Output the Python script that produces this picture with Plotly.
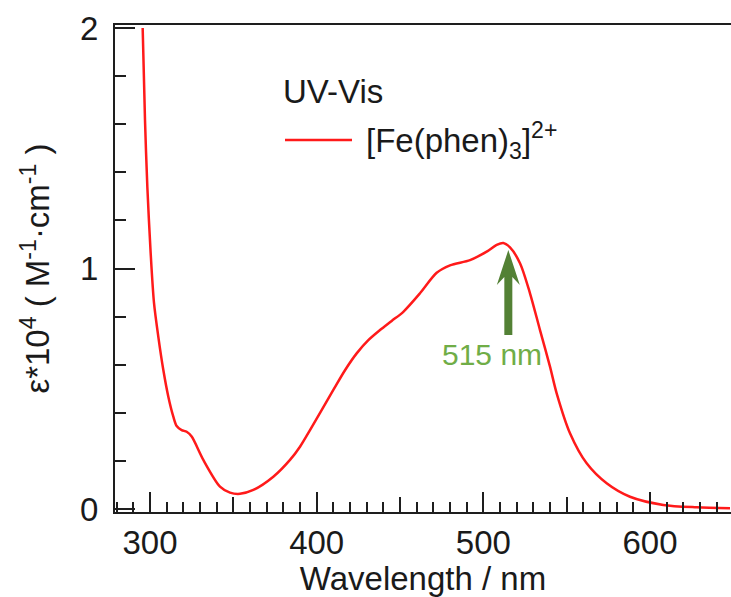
import plotly.graph_objects as go

# Absorption spectrum of [Fe(phen)3]2+ : wavelength (nm) vs epsilon / 1e4 (M^-1 cm^-1)
wavelength_nm = [295.6, 297.0, 298.4, 300.4, 302.4, 305.0, 308.0, 311.0, 314.0, 316.0,
                 319.0, 322.0, 325.0, 332.0, 342.0, 348.0, 354.0, 362.0, 374.0, 384.0,
                 390.0, 396.0, 410.0, 417.0, 424.0, 431.0, 438.0, 445.0, 452.0, 462.0,
                 472.0, 480.0, 492.0, 502.0, 508.0, 512.0, 516.0, 522.0, 528.0, 534.0,
                 540.0, 544.0, 552.0, 562.0, 574.0, 588.0, 608.0, 628.0, 648.0]
epsilon_1e4 = [2.00, 1.617, 1.340, 1.064, 0.857, 0.716, 0.578, 0.467, 0.384, 0.345,
               0.328, 0.321, 0.301, 0.204, 0.093, 0.068, 0.063, 0.079, 0.134, 0.204,
               0.259, 0.328, 0.495, 0.577, 0.647, 0.702, 0.744, 0.782, 0.820, 0.897,
               0.982, 1.013, 1.035, 1.070, 1.098, 1.106, 1.088, 1.022, 0.897, 0.744,
               0.592, 0.481, 0.315, 0.190, 0.107, 0.051, 0.017, 0.007, 0.003]

series_name = "[Fe(phen)<sub>3</sub>]<sup>2+</sup>"
legend_title = "UV-Vis"

# Absorption maximum marker
peak_nm = 515
peak_label = "515 nm"
arrow_tip = 1.077
arrow_tail = 0.723

x_major = [300, 400, 500, 600]
x_mid = [350, 450, 550, 650]
y_major = [0, 1, 2]

FONT = "Liberation Sans, Arial, sans-serif"
FS = 33
TXT = "#1a1a1a"
W, H = 731, 597
M_L, M_R, M_T, M_B = 115, 0, 25, 85
x_range = [279.0, 648.6]
y_range = [-0.0125, 2.0125]
AXIS_COL = "#1e1e1e"

plot_w = W - M_L - M_R
plot_h = H - M_T - M_B
px_per_nm = plot_w / (x_range[1] - x_range[0])
px_per_unit = plot_h / (y_range[1] - y_range[0])


def dx(p):
    return p / px_per_nm


def dy(p):
    return p / px_per_unit


def paper_x(px):
    return (px - M_L) / plot_w


def paper_y(py):
    return (H - M_B - py) / plot_h


fig = go.Figure()
fig.add_trace(go.Scatter(
    x=wavelength_nm, y=epsilon_1e4, mode="lines", name=series_name,
    line=dict(color="#ff1a1a", width=2.5, shape="spline", smoothing=0.8),
    showlegend=False, hoverinfo="skip"))
# empty trace so the secondary tick axis is laid out
fig.add_trace(go.Scatter(x=[], y=[], xaxis="x2", showlegend=False))

# Arrow pointing at the absorption maximum
tx, ty = peak_nm, arrow_tip
arrow_path = (
    f"M {tx},{ty} "
    f"L {tx + dx(11.5)},{ty - dy(35)} "
    f"L {tx + dx(4)},{ty - dy(27)} "
    f"L {tx + dx(4)},{arrow_tail} "
    f"L {tx - dx(4)},{arrow_tail} "
    f"L {tx - dx(4)},{ty - dy(27)} "
    f"L {tx - dx(11.5)},{ty - dy(35)} Z"
)
fig.add_shape(type="path", xref="x", yref="y", path=arrow_path,
              fillcolor="#538135", line=dict(width=0))
fig.add_annotation(x=peak_nm - 10, y=arrow_tail - dy(19), xref="x", yref="y",
                   text=peak_label, showarrow=False,
                   font=dict(family=FONT, size=30, color="#70ad47"),
                   xanchor="center", yanchor="middle")

# Legend drawn in the upper part of the plot
fig.add_annotation(x=paper_x(281), y=paper_y(91), xref="paper", yref="paper",
                   text=legend_title, showarrow=False, xanchor="left", yanchor="middle",
                   font=dict(family=FONT, size=FS, color=TXT))
fig.add_shape(type="line", xref="paper", yref="paper",
              x0=paper_x(285), x1=paper_x(352), y0=paper_y(140), y1=paper_y(140),
              line=dict(color="#ff1a1a", width=2.5))
fig.add_annotation(x=paper_x(364), y=paper_y(140), xref="paper", yref="paper",
                   text=series_name, showarrow=False, xanchor="left", yanchor="middle",
                   font=dict(family=FONT, size=FS, color=TXT))

fig.update_layout(
    width=W, height=H,
    margin=dict(l=M_L, r=M_R, t=M_T, b=M_B),
    paper_bgcolor="white", plot_bgcolor="white",
    font=dict(family=FONT, size=FS, color=TXT),
    xaxis=dict(
        range=x_range, showgrid=False, zeroline=False,
        showline=True, linecolor=AXIS_COL, linewidth=2, mirror=True,
        ticks="inside", tickvals=x_major, ticklen=20, tickwidth=2, tickcolor=AXIS_COL,
        minor=dict(dtick=10, tick0=0, ticks="inside", ticklen=10, tickwidth=2, tickcolor=AXIS_COL),
        tickfont=dict(family=FONT, size=FS, color=TXT),
        title=dict(text="Wavelength / nm", font=dict(family=FONT, size=FS, color=TXT), standoff=5),
        automargin=False, fixedrange=True,
    ),
    xaxis2=dict(
        range=x_range, overlaying="x", anchor="y", side="bottom",
        showgrid=False, zeroline=False, showline=False, showticklabels=False,
        ticks="inside", tickvals=x_mid, ticklen=15, tickwidth=2, tickcolor=AXIS_COL,
        fixedrange=True,
    ),
    yaxis=dict(
        range=y_range, showgrid=False, zeroline=False,
        showline=True, linecolor=AXIS_COL, linewidth=2,
        ticks="inside", tickvals=y_major, ticklen=20, tickwidth=2, tickcolor=AXIS_COL,
        minor=dict(dtick=0.2, tick0=0, ticks="inside", ticklen=11, tickwidth=2, tickcolor=AXIS_COL),
        tickfont=dict(family=FONT, size=FS, color=TXT), ticklabelstandoff=8,
        title=dict(text="ε*10<sup>4</sup> ( M<sup>-1</sup>·cm<sup>-1</sup> )",
                   font=dict(family=FONT, size=FS, color=TXT), standoff=20),
        automargin=False, fixedrange=True,
    ),
    showlegend=False,
)

fig.write_html("out.html")
